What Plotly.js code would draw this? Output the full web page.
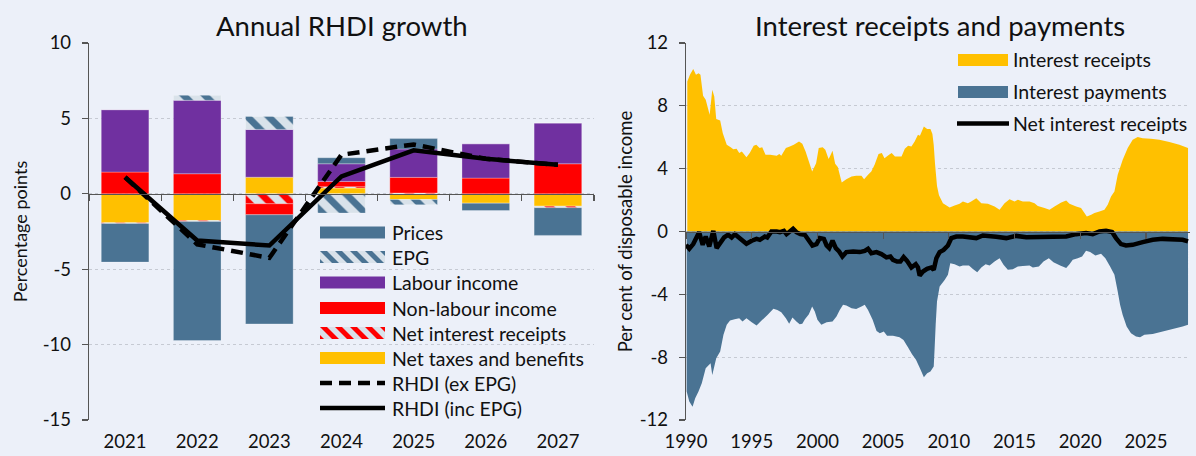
<!DOCTYPE html>
<html><head><meta charset="utf-8">
<script src="https://cdn.plot.ly/plotly-3.0.1.min.js"></script>
<style>html,body{margin:0;padding:0;background:#ecf0f9;}</style>
</head><body><div id="chart" style="width:1196px;height:456px;"></div>
<script>
// ---------- Left panel data: Annual RHDI growth (percentage points) ----------
const years = ['2021','2022','2023','2024','2025','2026','2027'];
const netTaxes    = [-1.92, -1.77,  1.10,  0.38, -0.38, -0.62, -0.82];
const netInterest = [-0.05, -0.07, -0.66,  0.09,  0.05,  0.00, -0.10];
const nonLabour   = [ 1.44,  1.33, -0.73,  0.35,  1.04,  1.04,  1.99];
const labour      = [ 4.14,  4.87,  3.17,  1.17,  1.88,  2.28,  2.70];
const epg         = [ 0.00,  0.33,  0.86, -1.28, -0.35,  0.00,  0.00];
const prices      = [-2.56, -7.89, -7.24,  0.40,  0.69, -0.49, -1.84];
const rhdiExEPG   = [ 1.10, -3.35, -4.25,  2.59,  3.27,  2.32,  1.92];
const rhdiIncEPG  = [ 1.10, -3.10, -3.43,  1.15,  2.88,  2.32,  1.92];
const leftTickVals = [-15, -10, -5, 0, 5, 10];
const leftTickText = ['-15', '-10', '-5', '0', '5', '10'];

// ---------- Right panel data: Interest receipts and payments (% of disposable income) ----------
const receiptsYear = [1990.1,1990.3,1990.55,1990.76,1990.96,1991.1,1991.3,1991.5,1991.8,1992.0,1992.15,1992.3,1992.6,1992.8,1993.1,1993.4,1993.6,1993.85,1994.05,1994.25,1994.4,1994.6,1994.85,1995.15,1995.35,1995.6,1995.8,1996.05,1996.4,1996.9,1997.1,1997.25,1997.6,1997.9,1998.2,1998.6,1998.85,1999.1,1999.35,1999.6,1999.9,2000.1,2000.4,2000.6,2000.85,2000.95,2001.15,2001.35,2001.55,2001.85,2002.2,2002.6,2002.95,2003.35,2003.55,2003.85,2004.1,2004.35,2004.65,2004.9,2005.1,2005.45,2005.65,2005.9,2006.4,2006.65,2006.9,2007.15,2007.4,2007.65,2007.8,2008.1,2008.35,2008.6,2008.75,2008.85,2008.95,2009.1,2009.25,2009.55,2010.06,2010.44,2010.82,2011.07,2011.45,2011.7,2012.09,2012.47,2012.97,2013.48,2013.86,2014.24,2014.62,2015.0,2015.25,2015.63,2016.14,2016.52,2016.77,2017.28,2017.66,2018.04,2018.55,2018.93,2019.18,2019.69,2020.06,2020.24,2020.5,2020.83,2021.08,2021.46,2021.84,2022.09,2022.34,2022.6,2022.85,2023.23,2023.61,2023.99,2024.37,2024.75,2025.38,2026.02,2026.78,2027.54,2028.2];
const receiptsVal = [9.55,9.98,10.34,9.98,10.08,9.98,8.64,8.39,7.43,9.02,8.6,7.16,7.07,6.26,5.52,5.37,5.24,5.27,4.99,5.1,4.93,4.72,4.99,5.46,5.52,5.31,5.37,4.88,4.88,4.82,4.93,4.82,5.31,5.41,5.52,5.73,5.58,5.1,4.46,3.82,4.35,5.31,5.37,5.2,4.61,4.78,5.14,4.31,4.1,3.12,3.33,3.5,3.55,3.55,3.33,3.61,3.82,4.25,4.93,4.99,4.67,4.88,4.99,4.78,4.78,5.27,5.46,5.41,5.73,6.16,6.1,6.69,6.52,6.52,6.2,5.5,4.3,2.9,2.3,1.8,1.53,1.66,1.76,1.91,1.8,1.91,2.12,1.8,1.76,1.59,1.38,1.8,2.06,1.91,2.02,1.91,1.91,1.8,1.63,1.49,1.38,1.59,1.85,1.97,1.76,1.59,1.49,1.27,0.96,1.06,1.17,1.27,1.38,1.7,2.23,2.55,3.61,4.56,5.31,5.84,6.01,5.94,5.9,5.84,5.69,5.52,5.31];

const paymentsYear = [1990.05,1990.25,1990.5,1990.7,1990.95,1991.2,1991.5,1991.87,1992.0,1992.3,1992.6,1992.85,1993.1,1993.35,1993.7,1994.05,1994.3,1994.6,1995.0,1995.37,1995.75,1996.2,1996.65,1996.95,1997.25,1997.6,1997.85,1998.1,1998.4,1998.65,1998.85,1999.05,1999.35,1999.6,1999.8,2000.0,2000.3,2000.7,2001.15,2001.45,2001.7,2001.95,2002.2,2002.6,2002.95,2003.35,2003.6,2003.85,2004.2,2004.5,2004.75,2005.05,2005.3,2005.75,2006.25,2006.55,2006.9,2007.2,2007.5,2007.8,2008.1,2008.35,2008.6,2008.85,2008.92,2009.0,2009.1,2009.3,2009.68,2009.93,2010.11,2010.44,2010.82,2011.07,2011.53,2011.83,2012.16,2012.47,2012.8,2013.1,2013.48,2013.86,2014.16,2014.49,2014.87,2015.25,2015.63,2016.14,2016.39,2016.85,2017.2,2017.61,2017.96,2018.47,2018.93,2019.18,2019.43,2019.81,2020.14,2020.44,2020.75,2021.15,2021.58,2021.91,2022.27,2022.6,2022.85,2023.03,2023.23,2023.53,2023.86,2024.24,2024.55,2024.88,2025.51,2026.27,2027.03,2027.79,2028.2];
const paymentsVal = [-10.19,-10.83,-11.15,-10.61,-10.19,-9.66,-8.7,-8.38,-9.13,-8.07,-7.64,-6.58,-5.94,-5.67,-5.58,-5.52,-5.73,-5.52,-5.77,-5.98,-5.67,-5.31,-4.92,-4.99,-5.14,-5.52,-5.88,-5.48,-5.73,-5.9,-5.88,-5.58,-5.26,-4.78,-5.09,-5.62,-5.94,-5.77,-5.73,-5.41,-4.99,-4.67,-4.71,-4.88,-4.94,-4.78,-4.67,-4.99,-5.62,-6.33,-6.47,-6.37,-6.64,-6.64,-6.73,-6.9,-7.39,-7.81,-8.17,-8.7,-9.28,-9.02,-8.92,-8.6,-7.4,-5.9,-4.46,-3.5,-3.08,-2.76,-2.02,-2.08,-2.23,-2.16,-2.16,-2.38,-2.59,-2.29,-2.08,-2.16,-1.91,-1.7,-2.12,-2.44,-2.4,-2.23,-2.19,-2.16,-2.29,-2.23,-1.91,-1.7,-1.95,-2.16,-2.33,-2.08,-1.8,-1.7,-1.59,-1.23,-1.31,-1.53,-1.42,-1.7,-2.23,-2.76,-3.82,-4.67,-5.31,-6.05,-6.47,-6.69,-6.73,-6.58,-6.52,-6.37,-6.2,-6.05,-5.94];

const netYear = [1990.0,1990.25,1990.55,1990.8,1991.0,1991.27,1991.5,1991.77,1992.08,1992.33,1992.63,1992.9,1993.2,1993.47,1993.72,1994.05,1994.36,1994.6,1995.0,1995.37,1995.62,1996.0,1996.18,1996.5,1996.9,1997.15,1997.45,1997.65,1997.9,1998.15,1998.4,1998.7,1999.04,1999.3,1999.62,1999.93,2000.18,2000.49,2000.7,2000.9,2001.15,2001.4,2001.65,2001.9,2002.2,2002.72,2003.22,2003.6,2003.85,2004.1,2004.49,2004.87,2005.25,2005.55,2005.75,2006.06,2006.31,2006.56,2006.82,2007.15,2007.48,2007.65,2007.78,2008.03,2008.34,2008.67,2008.85,2009.05,2009.3,2009.6,2009.93,2010.19,2010.57,2011.07,2011.58,2012.09,2012.59,2013.1,2013.6,2014.37,2015.13,2015.89,2016.65,2017.4,2018.17,2018.93,2019.68,2020.44,2020.95,2021.46,2021.96,2022.42,2022.72,2023.1,2023.48,2023.99,2024.75,2025.51,2026.27,2027.03,2027.79,2028.2];
const netVal = [-0.85,-1.1,-0.8,-0.42,-0.04,-0.85,-0.32,-0.95,0.04,-1.06,-0.63,-0.38,-0.21,-0.38,-0.17,-0.42,-0.63,-0.78,-0.59,-0.47,-0.53,-0.32,-0.38,0.0,0.0,-0.04,0.04,-0.17,0.0,0.17,-0.04,-0.17,-0.21,-0.53,-0.89,-0.8,-0.42,-0.47,-0.89,-1.06,-0.59,-1.06,-1.27,-1.59,-1.31,-1.27,-1.31,-1.23,-1.1,-1.38,-1.31,-1.44,-1.65,-1.59,-1.8,-1.91,-1.91,-1.63,-1.87,-2.29,-2.08,-2.29,-2.8,-2.55,-2.38,-2.29,-2.44,-1.7,-1.31,-1.17,-0.89,-0.42,-0.32,-0.32,-0.38,-0.42,-0.25,-0.32,-0.34,-0.42,-0.28,-0.36,-0.36,-0.32,-0.34,-0.32,-0.17,-0.1,-0.17,0.0,0.04,-0.04,-0.42,-0.8,-0.89,-0.85,-0.68,-0.53,-0.47,-0.47,-0.53,-0.63];
const xTickYears = [1990,1995,2000,2005,2010,2015,2020,2025];
const rightTickVals = [-12, -8, -4, 0, 4, 8, 12];
const rightTickText = ['-12', '-8', '-4', '0', '4', '8', '12'];

// ---------- styling ----------
const W = 1196, H = 456;
const FONT = "Lato, 'Open Sans', sans-serif";
const BG = '#ecf0f9';
const C_PRICES = '#4a7393', C_LAB = '#7030a0', C_NONLAB = '#ff0000', C_TAX = '#ffc000', C_HATCHBG = '#d9e2ea';
const AXC = '#555555', GRIDC = '#c6cad3';
const X = px => px / W, Y = py => 1 - py / H;

const yDom = [Y(420), Y(43)];
const leftDom = [X(89), X(594)];
const rightDom = [X(686), X(1190)];
const leftRange = [-15, 10], rightRange = [-12, 12];
const zeroPos = (r) => yDom[0] + (0 - r[0]) / (r[1] - r[0]) * (yDom[1] - yDom[0]);

const barLine = {color: 'rgba(255,255,255,0.35)', width: 0.8};
function bar(name, vals, color, pattern) {
  const m = {color: color, line: barLine};
  if (pattern) m.pattern = pattern;
  return {type: 'bar', name: name, x: years, y: vals, marker: m, xaxis: 'x', yaxis: 'y', showlegend: false, hoverinfo: 'y+name'};
}
const traces = [
  bar('Net taxes and benefits', netTaxes, C_TAX),
  bar('Net interest receipts', netInterest, C_HATCHBG, {shape: '\\', fgcolor: C_NONLAB, bgcolor: C_HATCHBG, size: 15, solidity: 0.45}),
  bar('Non-labour income', nonLabour, C_NONLAB),
  bar('Labour income', labour, C_LAB),
  bar('EPG', epg, C_HATCHBG, {shape: '\\', fgcolor: C_PRICES, bgcolor: C_HATCHBG, size: 15, solidity: 0.45}),
  bar('Prices', prices, C_PRICES),
  {type: 'scatter', mode: 'lines', name: 'RHDI (ex EPG)', x: years, y: rhdiExEPG, line: {color: '#000', width: 4.5, dash: '12px,7px'}, xaxis: 'x', yaxis: 'y', showlegend: false},
  {type: 'scatter', mode: 'lines', name: 'RHDI (inc EPG)', x: years, y: rhdiIncEPG, line: {color: '#000', width: 4.5}, xaxis: 'x', yaxis: 'y', showlegend: false},
  {type: 'scatter', mode: 'none', name: 'Interest receipts', x: receiptsYear, y: receiptsVal, fill: 'tozeroy', fillcolor: C_TAX, xaxis: 'x2', yaxis: 'y2', showlegend: false},
  {type: 'scatter', mode: 'none', name: 'Interest payments', x: paymentsYear, y: paymentsVal, fill: 'tozeroy', fillcolor: C_PRICES, xaxis: 'x2', yaxis: 'y2', showlegend: false},
  {type: 'scatter', mode: 'lines', name: 'Net interest receipts', x: netYear, y: netVal, line: {color: '#000', width: 4.5}, xaxis: 'x2', yaxis: 'y2', showlegend: false},
  {type: 'scatter', mode: 'markers', x: [null], y: [null], xaxis: 'x3', yaxis: 'y', showlegend: false, hoverinfo: 'skip'},
  {type: 'scatter', mode: 'markers', x: [null], y: [null], xaxis: 'x4', yaxis: 'y2', showlegend: false, hoverinfo: 'skip'}
];

// ---------- custom legends (wide sample keys like the original) ----------
const shapes = [], annotations = [];
function clipX(poly, xc, keepGE) {
  const out = [];
  const inside = p => keepGE ? p[0] >= xc : p[0] <= xc;
  for (let i = 0; i < poly.length; i++) {
    const cur = poly[i], prev = poly[(i + poly.length - 1) % poly.length];
    const inter = () => { const t = (xc - prev[0]) / (cur[0] - prev[0]); return [xc, prev[1] + t * (cur[1] - prev[1])]; };
    if (inside(cur)) { if (!inside(prev)) out.push(inter()); out.push(cur); }
    else if (inside(prev)) out.push(inter());
  }
  return out;
}
function rectKey(x0, y0, x1, y1, color) {
  shapes.push({type: 'rect', xref: 'paper', yref: 'paper', x0: X(x0), x1: X(x1), y0: Y(y0), y1: Y(y1), fillcolor: color, line: {width: 0}, layer: 'above'});
}
function hatchKey(x0, y0, x1, y1, bg, fg) {
  rectKey(x0, y0, x1, y1, bg);
  const h = y1 - y0, period = 15, w = 7;
  for (let a = x0 - h - w + 4; a < x1; a += period) {
    let poly = [[a, y0], [a + w, y0], [a + w + h, y1], [a + h, y1]];
    poly = clipX(poly, x0, true); if (poly.length < 3) continue;
    poly = clipX(poly, x1, false); if (poly.length < 3) continue;
    const path = 'M' + poly.map(p => X(p[0]).toFixed(5) + ',' + Y(p[1]).toFixed(5)).join('L') + 'Z';
    shapes.push({type: 'path', xref: 'paper', yref: 'paper', path: path, fillcolor: fg, line: {width: 0}, layer: 'above'});
  }
}
function lineKey(x0, x1, yc, dash) {
  shapes.push({type: 'line', xref: 'paper', yref: 'paper', x0: X(x0), x1: X(x1), y0: Y(yc), y1: Y(yc), line: {color: '#000', width: 4.5, dash: dash || 'solid'}, layer: 'above'});
}
const LEG_SIZE = 19.5;
function label(text, x, yc) {
  annotations.push({text: text, xref: 'paper', yref: 'paper', x: X(x), y: Y(yc), xanchor: 'left', yanchor: 'middle', showarrow: false, font: {family: FONT, size: LEG_SIZE, color: '#111'}});
}
// left legend
const L0 = 320, L1 = 385, LT = 390, rowY = [232.5, 257, 282.5, 308, 333, 358, 383, 408];
rectKey(L0, rowY[0] - 6, L1, rowY[0] + 6, C_PRICES);               label('Prices', LT, rowY[0]);
hatchKey(L0, rowY[1] - 6, L1, rowY[1] + 6, C_HATCHBG, C_PRICES);   label('EPG', LT, rowY[1]);
rectKey(L0, rowY[2] - 6, L1, rowY[2] + 6, C_LAB);                  label('Labour income', LT, rowY[2]);
rectKey(L0, rowY[3] - 6, L1, rowY[3] + 6, C_NONLAB);               label('Non-labour income', LT, rowY[3]);
hatchKey(L0, rowY[4] - 6, L1, rowY[4] + 6, C_HATCHBG, C_NONLAB);   label('Net interest receipts', LT, rowY[4]);
rectKey(L0, rowY[5] - 6, L1, rowY[5] + 6, C_TAX);                  label('Net taxes and benefits', LT, rowY[5]);
lineKey(L0, L1, rowY[6], '12px,7px');                              label('RHDI (ex EPG)', LT, rowY[6]);
lineKey(L0, L1, rowY[7]);                                          label('RHDI (inc EPG)', LT, rowY[7]);
// right legend
const R0 = 958, R1 = 1008, RT = 1011;
rectKey(R0, 54, R1, 66, C_TAX);       label('Interest receipts', RT, 60);
rectKey(R0, 86, R1, 98, C_PRICES);    label('Interest payments', RT, 92);
lineKey(R0 - 1, R1 + 1, 123.5);       label('Net interest receipts', RT, 123.5);

// titles
annotations.push({text: 'Annual RHDI growth', xref: 'paper', yref: 'paper', x: X(342), y: Y(25), xanchor: 'center', yanchor: 'middle', showarrow: false, font: {family: FONT, size: 27.5, color: '#111'}});
annotations.push({text: 'Interest receipts and payments', xref: 'paper', yref: 'paper', x: X(940), y: Y(25), xanchor: 'center', yanchor: 'middle', showarrow: false, font: {family: FONT, size: 27.5, color: '#111'}});

const tickFont = {family: FONT, size: 18.5, color: '#111'};
const yCommon = {
  domain: yDom, ticks: 'outside', ticklen: 6, tickwidth: 1.2, tickcolor: AXC, ticklabelstandoff: 7,
  showline: true, linecolor: AXC, linewidth: 1.2, showgrid: true, gridcolor: GRIDC, griddash: 'dot', gridwidth: 1,
  zeroline: false, tickfont: tickFont, fixedrange: true, tickmode: 'array'
};
const layout = {
  width: W, height: H, margin: {l: 0, r: 0, t: 0, b: 0, pad: 0},
  paper_bgcolor: BG, plot_bgcolor: BG, showlegend: false,
  barmode: 'relative', bargap: 0.34,
  font: {family: FONT, color: '#111'},
  xaxis: {domain: leftDom, anchor: 'y', type: 'category', range: [-0.5, years.length - 0.5], showline: false, ticks: '', showgrid: false, zeroline: false, tickfont: tickFont, ticklabelstandoff: 8, fixedrange: true},
  xaxis3: {overlaying: 'x', anchor: 'free', position: zeroPos(leftRange), type: 'linear', range: [-0.5, years.length - 0.5],
           tickmode: 'array', tickvals: years.map((c, i) => i - 0.5).concat([years.length - 0.5]), ticks: 'outside', ticklen: 6, tickwidth: 1.2, tickcolor: AXC,
           showline: true, linecolor: AXC, linewidth: 1.5, showticklabels: false, showgrid: false, zeroline: false, fixedrange: true},
  yaxis: Object.assign({}, yCommon, {anchor: 'x', range: leftRange, tickvals: leftTickVals, ticktext: leftTickText,
           title: {text: 'Percentage points', font: {family: FONT, size: 18, color: '#111'}, standoff: 10}}),
  xaxis2: {domain: rightDom, anchor: 'y2', type: 'linear', range: [1990, 2028.35], tickmode: 'array', tickvals: xTickYears, showline: false, ticks: '', showgrid: false, zeroline: false, tickfont: tickFont, ticklabelstandoff: 8, fixedrange: true},
  xaxis4: {overlaying: 'x2', anchor: 'free', position: zeroPos(rightRange), type: 'linear', range: [1990, 2028.35],
           tickmode: 'array', tickvals: xTickYears, ticks: 'outside', ticklen: 6, tickwidth: 1.2, tickcolor: AXC,
           showline: true, linecolor: AXC, linewidth: 1.5, showticklabels: false, showgrid: false, zeroline: false, fixedrange: true},
  yaxis2: Object.assign({}, yCommon, {anchor: 'x2', range: rightRange, tickvals: rightTickVals, ticktext: rightTickText,
           title: {text: 'Per cent of disposable income', font: {family: FONT, size: 18.5, color: '#111'}, standoff: 2}}),
  shapes: shapes, annotations: annotations
};
Plotly.newPlot('chart', traces, layout, {displayModeBar: false, staticPlot: true});
</script>
</body></html>
